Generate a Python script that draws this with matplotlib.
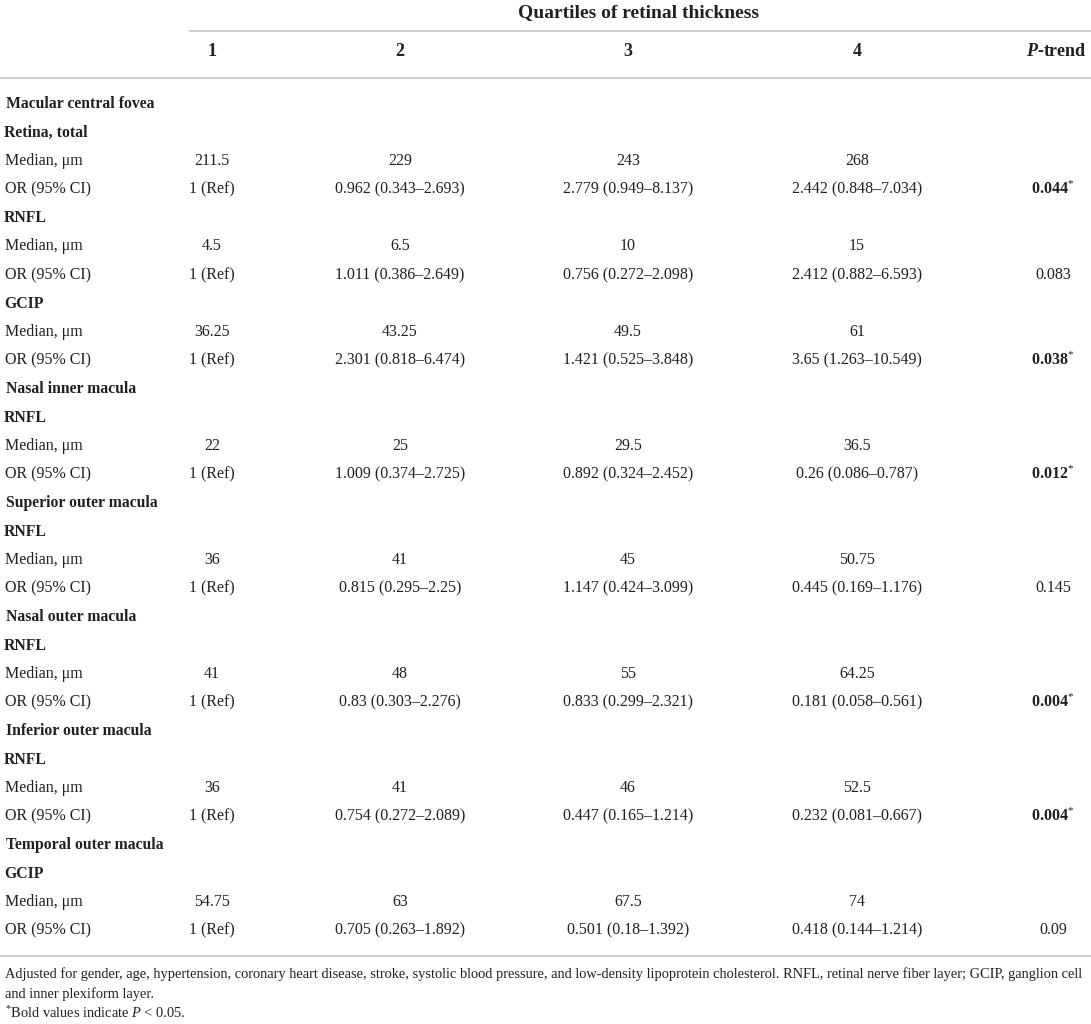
import matplotlib.pyplot as plt

plt.rcParams['font.family'] = ['Liberation Serif', 'DejaVu Serif']
plt.rcParams['mathtext.fontset'] = 'custom'
plt.rcParams['mathtext.rm'] = 'Liberation Serif'
plt.rcParams['mathtext.it'] = 'Liberation Serif:italic'
plt.rcParams['mathtext.bf'] = 'Liberation Serif:bold'
plt.rcParams['mathtext.bfit'] = 'Liberation Serif:bold:italic'

# Table content
title = 'Quartiles of retinal thickness'
quartiles = ['1', '2', '3', '4']
regions = ['Macular central fovea', 'Nasal inner macula', 'Superior outer macula',
           'Nasal outer macula', 'Inferior outer macula', 'Temporal outer macula']
layer_region = [0, 0, 0, 1, 2, 3, 4, 5]
layers = ['Retina, total', 'RNFL', 'GCIP', 'RNFL', 'RNFL', 'RNFL', 'RNFL', 'GCIP']
medians = [
    ['211.5', '229', '243', '268'],
    ['4.5', '6.5', '10', '15'],
    ['36.25', '43.25', '49.5', '61'],
    ['22', '25', '29.5', '36.5'],
    ['36', '41', '45', '50.75'],
    ['41', '48', '55', '64.25'],
    ['36', '41', '46', '52.5'],
    ['54.75', '63', '67.5', '74'],
]
odds = [
    ['1 (Ref)', '0.962 (0.343–2.693)', '2.779 (0.949–8.137)', '2.442 (0.848–7.034)'],
    ['1 (Ref)', '1.011 (0.386–2.649)', '0.756 (0.272–2.098)', '2.412 (0.882–6.593)'],
    ['1 (Ref)', '2.301 (0.818–6.474)', '1.421 (0.525–3.848)', '3.65 (1.263–10.549)'],
    ['1 (Ref)', '1.009 (0.374–2.725)', '0.892 (0.324–2.452)', '0.26 (0.086–0.787)'],
    ['1 (Ref)', '0.815 (0.295–2.25)', '1.147 (0.424–3.099)', '0.445 (0.169–1.176)'],
    ['1 (Ref)', '0.83 (0.303–2.276)', '0.833 (0.299–2.321)', '0.181 (0.058–0.561)'],
    ['1 (Ref)', '0.754 (0.272–2.089)', '0.447 (0.165–1.214)', '0.232 (0.081–0.667)'],
    ['1 (Ref)', '0.705 (0.263–1.892)', '0.501 (0.18–1.392)', '0.418 (0.144–1.214)'],
]
p_trend = ['0.044', '0.083', '0.038', '0.012', '0.145', '0.004', '0.004', '0.09']
footnote1 = ('Adjusted for gender, age, hypertension, coronary heart disease, stroke, systolic blood pressure, '
             'and low-density lipoprotein cholesterol. RNFL, retinal nerve fiber layer; GCIP, ganglion cell')
footnote2 = 'and inner plexiform layer.'
footnote3 = r'$^{*}$Bold values indicate $\mathit{P}$ < 0.05.'

# Layout
col_x = [212, 400, 628, 857]
p_x = 1053
row0 = 104
row_h = 28.5
txt = '#231f20'
rule = '#cccccc'
fs = 11.5
fs_bold = 11.3
fs_note = 10.38

fig = plt.figure(figsize=(10.91, 10.24), dpi=100)
ax = fig.add_axes([0, 0, 1, 1])
ax.set_xlim(0, 1091)
ax.set_ylim(1024, 0)
ax.axis('off')

# header
ax.text(638, 13, title, ha='center', va='center', fontsize=14, fontweight='bold', color=txt)
ax.plot([190, 1091], [31, 31], color=rule, lw=1.4)
for q, x in zip(quartiles, col_x):
    ax.text(x, 52, q, ha='center', va='center', fontsize=13, fontweight='bold', color=txt)
ax.text(1087, 52, r'$\mathbfit{P}$-trend', ha='right', va='center', fontsize=13,
        fontweight='bold', color=txt)
ax.plot([0, 1091], [78, 78], color=rule, lw=1.4)

# body
row = 0
last_region = -1
for i in range(len(layers)):
    if layer_region[i] != last_region:
        last_region = layer_region[i]
        ax.text(6, row0 + row * row_h, regions[last_region], ha='left', va='center',
                fontsize=fs_bold, fontweight='bold', color=txt)
        row += 1
    ax.text(4, row0 + row * row_h, layers[i], ha='left', va='center',
            fontsize=fs_bold, fontweight='bold', color=txt)
    row += 1
    y = row0 + row * row_h
    ax.text(5, y, 'Median, μm', ha='left', va='center', fontsize=fs, color=txt)
    for v, x in zip(medians[i], col_x):
        ax.text(x, y, v, ha='center', va='center', fontsize=fs, color=txt)
    row += 1
    y = row0 + row * row_h
    ax.text(5, y, 'OR (95% CI)', ha='left', va='center', fontsize=fs, color=txt)
    for v, x in zip(odds[i], col_x):
        ax.text(x, y, v, ha='center', va='center', fontsize=fs, color=txt)
    if float(p_trend[i]) < 0.05:
        ax.text(p_x, y, r'$\mathbf{' + p_trend[i] + r'}^{*}$', ha='center', va='center',
                fontsize=fs, color=txt)
    else:
        ax.text(p_x, y, p_trend[i], ha='center', va='center', fontsize=fs, color=txt)
    row += 1

ax.plot([0, 1091], [956, 956], color=rule, lw=1.4)

# footnotes
ax.text(5, 974, footnote1, ha='left', va='center', fontsize=fs_note, color=txt)
ax.text(5, 994, footnote2, ha='left', va='center', fontsize=fs_note, color=txt)
ax.text(5, 1013, footnote3, ha='left', va='center', fontsize=fs_note, color=txt)

fig.savefig('out.png', dpi=100, facecolor='white')
